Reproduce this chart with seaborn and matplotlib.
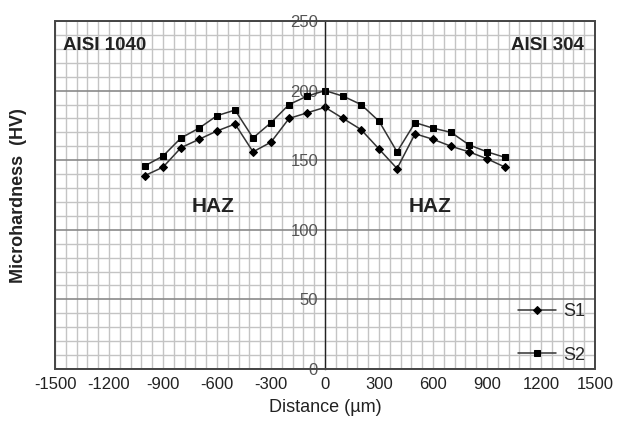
import matplotlib
matplotlib.use("Agg")
import matplotlib.pyplot as plt
from matplotlib.patches import Rectangle
from matplotlib.ticker import MultipleLocator
import numpy as np
import pandas as pd
import seaborn as sns

# Distance from weld centre (um) and microhardness (HV)
distance = [-1000, -900, -800, -700, -600, -500, -400, -300, -200, -100, 0,
            100, 200, 300, 400, 500, 600, 700, 800, 900, 1000]
s1 = [139, 145, 159, 165, 171, 176, 156, 163, 180, 184, 188,
      180, 172, 158, 144, 169, 165, 160, 156, 151, 145]
s2 = [146, 153, 166, 173, 182, 186, 166, 177, 190, 196, 200,
      196, 190, 178, 156, 177, 173, 170, 161, 156, 152]
x_ticks = [-1500, -1200, -900, -600, -300, 0, 300, 600, 900, 1200, 1500]
y_ticks = [0, 50, 100, 150, 200, 250]

df = pd.DataFrame({"Distance": distance * 2,
                   "HV": s1 + s2,
                   "Sample": ["S1"] * len(s1) + ["S2"] * len(s2)})

sns.set_style("white")
plt.rcParams["font.family"] = ["Liberation Sans Narrow", "Liberation Sans", "DejaVu Sans"]

fig = plt.figure(figsize=(6.28, 4.45), dpi=100)
ax = fig.add_axes([0.0876, 0.1708, 0.86, 0.782])

sns.lineplot(data=df, x="Distance", y="HV", hue="Sample", style="Sample",
             markers={"S1": "D", "S2": "s"}, dashes=False,
             palette={"S1": "#333333", "S2": "#333333"},
             markersize=4.5, markeredgecolor="black", markerfacecolor="black",
             linewidth=1.1, ax=ax)

ax.set_xlim(-1500, 1500)
ax.set_ylim(0, 250)

# grid
ax.xaxis.set_minor_locator(MultipleLocator(60))
ax.yaxis.set_minor_locator(MultipleLocator(10))
ax.grid(which="minor", color="#c4c4c4", lw=1.0)
ax.grid(which="major", axis="x", color="#c4c4c4", lw=1.0)
ax.grid(which="major", axis="y", color="#8a8a8a", lw=1.2)
ax.set_axisbelow(True)

# y axis through x = 0
ax.spines["left"].set_position(("data", 0))
ax.spines["left"].set_color("#222222")
ax.spines["left"].set_linewidth(1.0)
for s in ["top", "right", "bottom"]:
    ax.spines[s].set_visible(False)
ax.add_patch(Rectangle((0, 0), 1, 1, transform=ax.transAxes, fill=False,
                       ec="#444444", lw=1.4, clip_on=False, zorder=5))

ax.set_yticks(y_ticks)
ax.set_xticks(x_ticks)
ax.set_xticklabels([str(v) for v in x_ticks])
ax.tick_params(axis="y", which="major", length=4, direction="out", color="#222222",
               labelsize=12, labelcolor="#555555", pad=1)
ax.tick_params(axis="y", which="minor", length=0)
ax.tick_params(axis="x", which="both", length=0, labelsize=12, labelcolor="#222222", pad=6)

ax.set_xlabel("Distance (µm)", fontsize=13, color="#222222", labelpad=5)
ax.set_ylabel("")
fig.text(0.03, 0.56, "Microhardness  (HV)", rotation=90, ha="center", va="center",
         fontsize=13, fontweight="bold", color="#222222")

ax.text(0.015, 0.93, "AISI 1040", transform=ax.transAxes, fontsize=13.5,
        fontweight="bold", va="center", ha="left", color="#222222")
ax.text(0.98, 0.93, "AISI 304", transform=ax.transAxes, fontsize=13.5,
        fontweight="bold", va="center", ha="right", color="#222222")
ax.text(-620, 117, "HAZ", fontsize=15, fontweight="bold", ha="center", va="center", color="#222222")
ax.text(585, 117, "HAZ", fontsize=15, fontweight="bold", ha="center", va="center", color="#222222")

ax.legend(loc="lower right", frameon=False, fontsize=13, handlelength=2.1,
          labelspacing=1.45, handletextpad=0.4, borderaxespad=0.0,
          bbox_to_anchor=(0.995, -0.005))

fig.savefig("out.png", dpi=100)
